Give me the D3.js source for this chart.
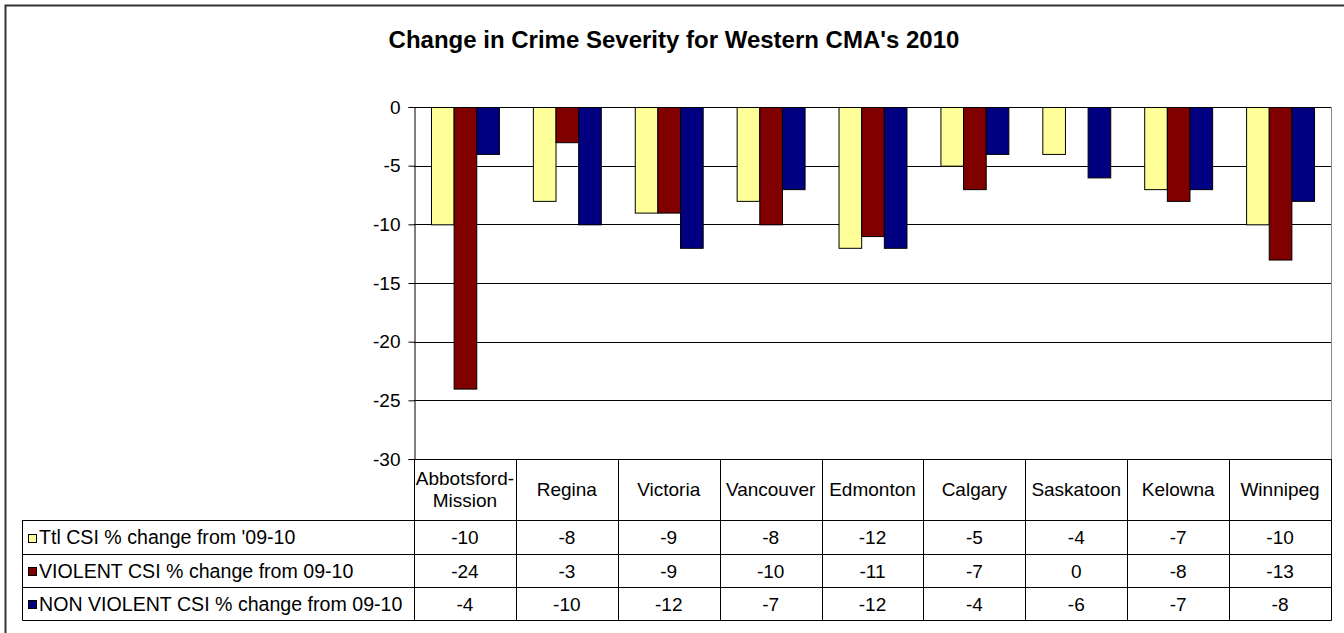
<!DOCTYPE html>
<html>
<head>
<meta charset="utf-8">
<script src="https://cdn.jsdelivr.net/npm/d3@7/dist/d3.min.js"></script>
<style>
  html, body { margin: 0; padding: 0; background: #fff; overflow: hidden; }
  svg { display: block; font-family: "Liberation Sans", Arial, sans-serif; }
</style>
</head>
<body>
<svg id="chart" width="1344" height="633"></svg>
<script>
const title = "Change in Crime Severity for Western CMA's 2010";
const categories = ["Abbotsford-Mission", "Regina", "Victoria", "Vancouver", "Edmonton", "Calgary", "Saskatoon", "Kelowna", "Winnipeg"];
const seriesNames = ["Ttl CSI % change from '09-10", "VIOLENT CSI % change from 09-10", "NON VIOLENT CSI % change from 09-10"];
const ttlValues = [-10, -8, -9, -8, -12, -5, -4, -7, -10];
const violentValues = [-24, -3, -9, -10, -11, -7, 0, -8, -13];
const nonViolentValues = [-4, -10, -12, -7, -12, -4, -6, -7, -8];
const yTicks = [0, -5, -10, -15, -20, -25, -30];
const seriesColors = ["#FFFF99", "#800000", "#000080"];

const seriesValues = [ttlValues, violentValues, nonViolentValues];

const svg = d3.select("#chart");

// outer frame (extends past the window on right/bottom)
svg.append("rect").attr("x", 5.5).attr("y", 5.5).attr("width", 1345).attr("height", 640)
  .attr("fill", "none").attr("stroke", "#333").attr("stroke-width", 2);

// title
svg.append("text").attr("x", 674).attr("y", 48).attr("text-anchor", "middle")
  .attr("font-size", 24).attr("font-weight", "bold").attr("fill", "#000").text(title);

const plotLeft = 414, plotRight = 1331, plotTop = 107, plotBottom = 459;

const xCat = d3.scaleBand().domain(categories).range([plotLeft, plotRight]);
// Excel-style gap width 150%: group = 3 bars, gap = 1.5 bars
const barW = xCat.bandwidth() / 4.5;
const xSub = d3.scaleBand().domain(d3.range(3)).range([barW * 0.75, barW * 3.75]);
const y = d3.scaleLinear().domain([0, -30]).range([plotTop, plotBottom]);

// gridlines
svg.append("g").selectAll("line").data(yTicks).join("line")
  .attr("x1", plotLeft).attr("x2", plotRight)
  .attr("y1", d => Math.round(y(d)) + 0.5).attr("y2", d => Math.round(y(d)) + 0.5)
  .attr("stroke", "#000").attr("stroke-width", 1);

// right plot border
svg.append("line").attr("x1", plotRight + 0.5).attr("x2", plotRight + 0.5)
  .attr("y1", plotTop).attr("y2", plotBottom).attr("stroke", "#888");

// y axis
const yAxis = d3.axisLeft(y).tickValues(yTicks).tickSize(6).tickPadding(8).tickFormat(d3.format("d"));
const yg = svg.append("g").attr("transform", `translate(${plotLeft + 0.5},0)`).call(yAxis);
yg.select(".domain").attr("stroke", "#000");
yg.selectAll(".tick line").attr("stroke", "#000");
yg.selectAll(".tick text").attr("font-size", 19).attr("fill", "#000")
  .attr("font-family", "Liberation Sans, Arial, sans-serif").text(d => String(d));

// bars
const groups = svg.append("g").selectAll("g").data(categories).join("g")
  .attr("transform", d => `translate(${xCat(d)},0)`);
groups.selectAll("rect").data((d, i) => seriesValues.map((s, k) => ({ k, v: s[i] })))
  .join("rect")
  .attr("x", d => xSub(d.k) + 0.5)
  .attr("y", d => Math.round(y(0)) + 0.5)
  .attr("width", xSub.bandwidth())
  .attr("height", d => Math.max(0, y(d.v) - y(0)))
  .attr("fill", d => seriesColors[d.k])
  .attr("stroke", "#000").attr("stroke-width", 1)
  .style("display", d => d.v === 0 ? "none" : null);

// data table
const rowTops = [520, 554, 587, 620];
const tableLeft = 22.5;
const lines = svg.append("g").attr("stroke", "#000").attr("stroke-width", 1);
lines.append("line").attr("x1", plotLeft + 0.5).attr("x2", plotLeft + 0.5).attr("y1", plotBottom).attr("y2", 620.5);
categories.forEach(c => {
  const xr = Math.round(xCat(c) + xCat.bandwidth()) + 0.5;
  lines.append("line").attr("x1", xr).attr("x2", xr).attr("y1", plotBottom).attr("y2", 620.5);
});
rowTops.forEach(t => {
  lines.append("line").attr("x1", tableLeft).attr("x2", plotRight + 0.5).attr("y1", t + 0.5).attr("y2", t + 0.5);
});
lines.append("line").attr("x1", tableLeft).attr("x2", tableLeft).attr("y1", 520).attr("y2", 620.5);

// category labels
const catG = svg.append("g").attr("font-size", 19).attr("fill", "#000").attr("text-anchor", "middle");
categories.forEach(c => {
  const cx = xCat(c) + xCat.bandwidth() / 2;
  const parts = c.includes("-") ? [c.slice(0, c.indexOf("-") + 1), c.slice(c.indexOf("-") + 1)] : [c];
  const lh = 22;
  const midY = (plotBottom + rowTops[0]) / 2;
  parts.forEach((p, i) => {
    catG.append("text").attr("x", cx)
      .attr("y", midY + (i - (parts.length - 1) / 2) * lh)
      .attr("dy", "0.35em").text(p);
  });
});

// legend rows and values
const rowG = svg.append("g").attr("font-size", 19).attr("fill", "#000");
seriesNames.forEach((name, k) => {
  const midY = (rowTops[k] + rowTops[k + 1]) / 2 + 0.5;
  rowG.append("rect").attr("x", 28.5).attr("y", Math.round(midY - 4) + 0.5).attr("width", 8).attr("height", 8)
    .attr("fill", seriesColors[k]).attr("stroke", "#000");
  rowG.append("text").attr("x", 39).attr("y", midY).attr("dy", "0.35em")
    .attr("font-size", 19.6).text(name);
  categories.forEach((c, i) => {
    rowG.append("text").attr("x", xCat(c) + xCat.bandwidth() / 2).attr("y", midY)
      .attr("dy", "0.35em").attr("text-anchor", "middle").text(String(seriesValues[k][i]));
  });
});
</script>
</body>
</html>
